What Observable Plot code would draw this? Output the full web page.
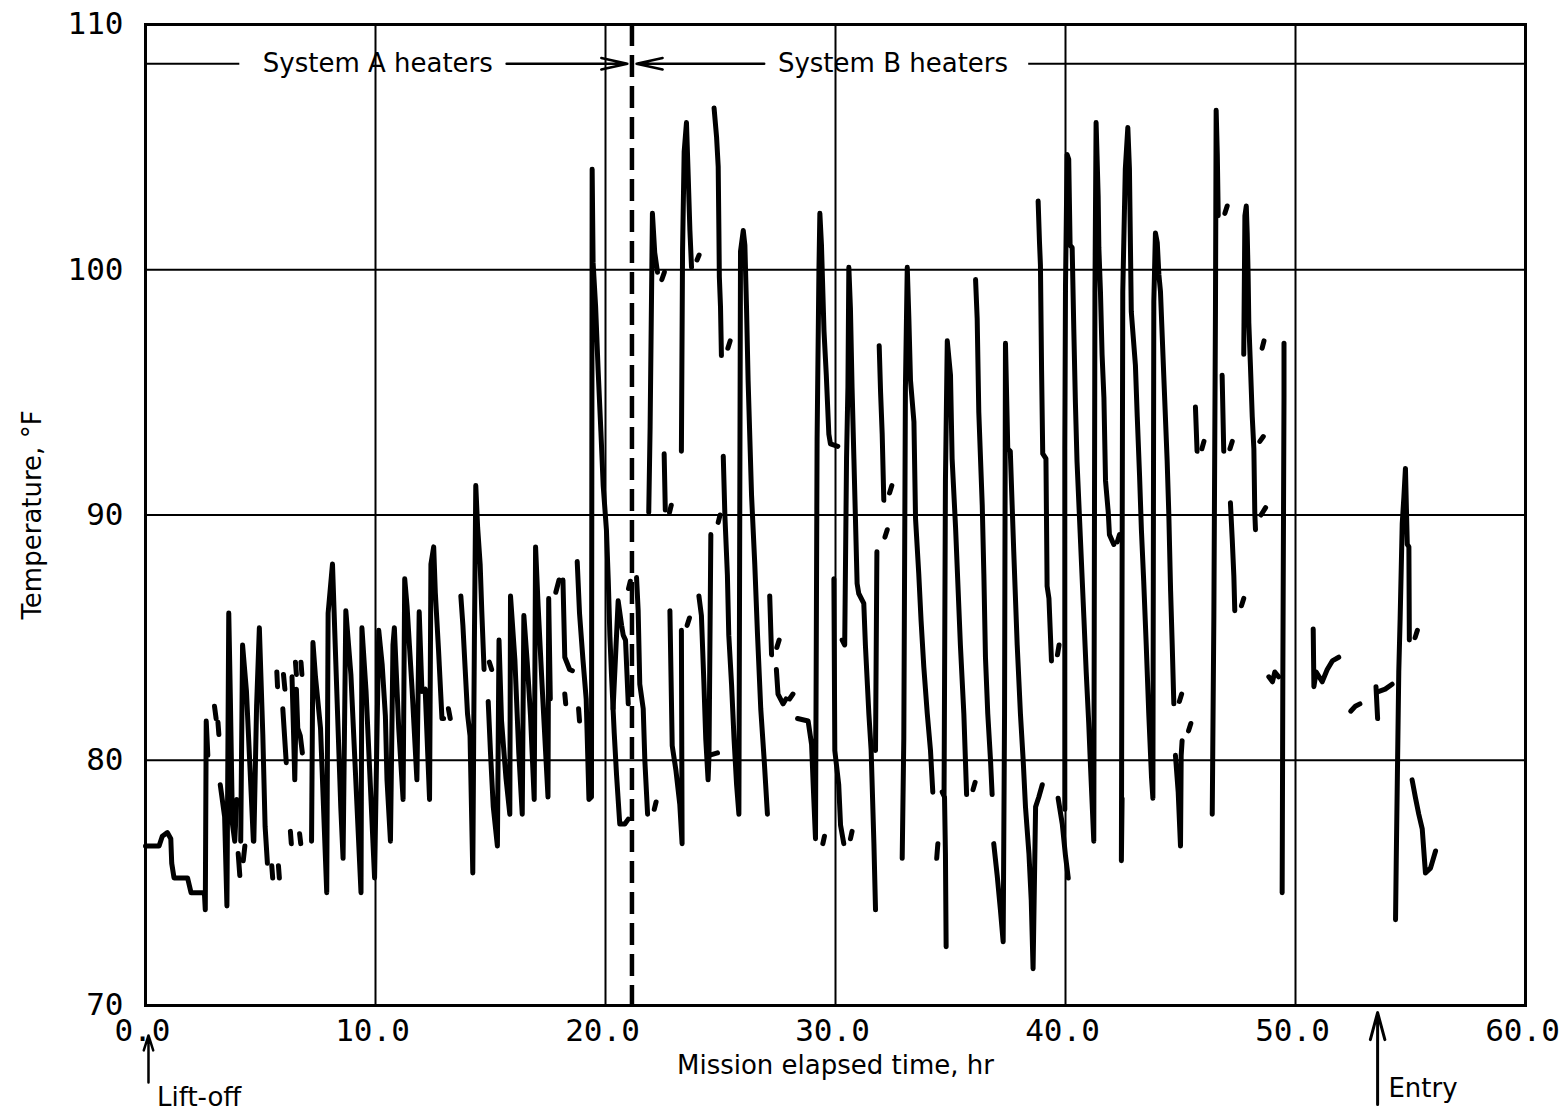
<!DOCTYPE html>
<html>
<head>
<meta charset="utf-8">
<script src="https://cdn.jsdelivr.net/npm/d3@7"></script>
<script src="https://cdn.jsdelivr.net/npm/@observablehq/plot@0.6"></script>
<style>
  html, body { margin: 0; padding: 0; background: #fff; }
  #chart svg { display: block; }
</style>
</head>
<body>
<div id="chart"></div>
<script>
// Tick values
const xTicks = [0, 10, 20, 30, 40, 50, 60];
const yTicks = [70, 80, 90, 100, 110];
const xGrid = [10, 20, 30, 40, 50];
const yGrid = [80, 90, 100];

// Heater switch-over time (hr)
const switchHour = [21.15];

// Trace readings [mission elapsed time hr, temperature °F]; null = break in record
const traceSystemA = [
  [0,76.5],[0.59,76.5],[0.73,76.9],[0.95,77.05],[1.1,76.8],[1.14,75.8],[1.24,75.2],[1.83,75.2],[1.98,74.6],[2.56,74.6],[2.6,73.9],[2.64,81.6],[2.71,80.2],null,
  [3.0,82.2],[3.07,81.7],null,
  [3.15,81.55],[3.19,81.05],null,
  [3.25,79.0],[3.44,77.7],[3.54,74.06],[3.62,86.0],[3.69,82.5],[3.78,77.4],[3.88,76.7],[3.97,78.4],null,
  [4.03,76.2],[4.1,75.3],null,
  [4.25,75.9],[4.32,76.5],null,
  [4.14,76.7],[4.22,84.7],[4.39,82.8],[4.69,76.7],[4.71,76.7],[4.83,82.2],[4.95,85.4],[5.1,81.05],[5.2,77.3],[5.3,75.8],null,
  [5.49,75.7],[5.53,75.2],null,
  [5.78,75.7],[5.82,75.2],null,
  [5.71,83.6],[5.74,83.0],null,
  [6.0,83.5],[6.06,82.9],null,
  [6.52,84.0],[6.56,83.5],null,
  [6.76,84.0],[6.8,83.5],null,
  [5.97,82.1],[6.12,79.9],null,
  [6.37,83.4],[6.44,81.0],[6.49,79.2],[6.56,82.9],[6.62,81.3],[6.73,81.0],[6.82,80.3],null,
  [6.3,77.1],[6.34,76.6],null,
  [6.7,77.0],[6.75,76.6],null,
  [7.22,76.7],[7.28,84.8],[7.39,83.4],[7.61,81.3],[7.88,74.6],[7.94,86.0],[8.13,88.0],[8.27,84.1],[8.49,78.1],[8.59,76.0],[8.71,86.1],[8.93,83.5],[9.37,74.6],[9.41,85.4],[9.59,82.8],[9.96,75.2],[10.14,85.3],[10.29,83.9],[10.43,81.8],[10.5,79.2],[10.65,76.7],[10.76,84.7],[10.82,85.4],[11.01,81.3],[11.2,78.4],[11.27,87.4],[11.37,86.3],[11.59,82.9],[11.8,79.2],[11.9,86.05],[12.02,82.8],[12.16,82.9],[12.35,78.4],[12.41,88.0],[12.53,88.7],[12.6,86.85],[12.74,84.5],[12.89,81.7],[12.96,81.7],null,
  [13.17,82.1],[13.25,81.7],null,
  [13.71,86.7],[13.8,85.5],[13.9,83.7],[14.0,81.9],[14.11,81.0],[14.23,75.4],[14.27,81.0],[14.3,84.9],[14.36,91.2],[14.44,89.5],[14.55,88.0],[14.62,86.1],[14.72,83.7],null,
  [14.95,84.0],[15.05,83.7],null,
  [14.9,82.4],[15.0,80.3],[15.12,78.1],[15.3,76.5],[15.37,84.9],[15.48,81.6],[15.67,79.3],[15.84,77.8],[15.87,86.7],[16.06,84.1],[16.23,80.3],[16.38,77.8],[16.45,85.9],[16.6,83.95],[16.74,81.8],[16.9,78.4],[16.96,88.7],[17.07,86.3],[17.24,83.1],[17.5,78.5],[17.53,86.6],[17.6,82.5],null,
  [17.84,86.85],[17.98,87.35],null,
  [18.15,87.35],[18.23,84.2],[18.44,83.7],[18.56,83.65],null,
  [18.23,82.7],[18.27,82.3],null,
  [18.83,82.1],[18.87,81.6],null,
  [18.77,88.1],[18.87,86.0],[19.02,84.1],[19.16,82.5],[19.28,78.4],[19.39,78.5],[19.42,104.1],[19.46,100.3],[19.57,98.5],[19.68,95.9],[19.8,93.4],[19.9,91.2],[20.04,89.4],[20.12,87.35],[20.19,85.1],[20.26,83.5],[20.38,81.1],[20.48,79.4],[20.62,77.4],[20.84,77.4],[20.99,77.6],null,
  [20.33,82.1],[20.55,86.5],[20.7,85.5],[20.77,85.1],[20.87,84.9],[20.99,82.3],null,
  [21.0,87.0],[21.08,87.3]
];

const traceSystemB = [
  [21.35,87.45],[21.42,86.1],[21.49,83.1],[21.64,82.1],[21.71,80.0],[21.83,77.8],null,
  [22.12,78.0],[22.2,78.3],null,
  [21.88,90.1],[21.94,93.6],[22.04,102.3],[22.14,100.7],[22.26,99.9],null,
  [22.45,99.6],[22.56,99.9],null,
  [22.55,92.5],[22.6,90.2],null,
  [22.78,90.1],[22.86,90.4],null,
  [22.8,86.1],[22.9,80.6],[23.06,79.6],[23.23,78.2],[23.33,76.6],[23.3,85.3],null,
  [23.55,85.5],[23.65,85.8],null,
  [23.3,92.6],[23.35,100.75],[23.42,104.8],[23.52,106.0],[23.59,104.0],[23.67,101.6],[23.74,100.1],null,
  [23.98,100.4],[24.07,100.6],null,
  [24.06,86.7],[24.17,85.9],[24.28,83.1],[24.36,80.85],[24.46,79.2],[24.5,80.2],[24.58,89.2],null,
  [24.5,80.2],[24.87,80.3],null,
  [24.9,89.7],[24.98,90.0],null,
  [24.72,106.6],[24.83,105.4],[24.9,104.2],[24.93,101.6],[24.95,99.7],[25.0,98.5],[25.04,96.5],null,
  [25.32,96.8],[25.42,97.1],null,
  [25.12,92.4],[25.19,90.0],[25.3,87.55],[25.36,85.1],[25.48,83.1],[25.59,80.85],[25.7,79.0],[25.8,77.8],[25.87,100.75],[25.99,101.6],[26.06,101.0],[26.13,98.5],[26.2,95.5],[26.35,90.8],[26.49,88.0],[26.61,85.1],[26.75,82.1],[26.9,80.0],[27.04,77.8],null,
  [27.14,86.7],[27.22,84.3],null,
  [27.45,84.6],[27.55,84.9],null,
  [27.43,83.7],[27.5,82.7],[27.72,82.3],[27.85,82.5],null,
  [28.0,82.5],[28.15,82.7],null,
  [28.35,81.7],[28.81,81.6],[28.96,80.65],[29.03,79.0],[29.13,76.8],[29.2,93.1],[29.28,100.0],[29.32,102.3],[29.39,101.0],[29.5,97.5],[29.6,95.7],[29.71,93.3],[29.78,92.9],[30.1,92.8],null,
  [29.45,76.6],[29.52,76.9],null,
  [29.93,87.4],[29.97,80.4],[30.14,79.0],[30.22,77.35],[30.36,76.6],null,
  [30.65,76.8],[30.72,77.1],null,
  [30.29,84.9],[30.4,84.7],[30.48,92.3],[30.54,95.2],[30.58,100.1],[30.65,98.4],[30.72,95.2],[30.8,92.3],[30.94,87.2],[31.01,86.8],[31.23,86.4],[31.3,84.7],[31.45,81.9],[31.55,80.4],[31.67,76.6],[31.74,73.9],null,
  [31.74,80.4],[31.8,88.5],null,
  [32.15,89.1],[32.25,89.4],null,
  [31.9,96.9],[31.96,95.0],[32.03,93.3],[32.1,90.6],null,
  [32.35,90.9],[32.45,91.2],null,
  [32.9,76.0],[32.97,80.9],[33.04,95.2],[33.12,100.1],[33.19,98.0],[33.26,95.5],[33.41,93.8],[33.48,89.85],[33.62,87.6],[33.72,85.7],[33.84,83.8],[33.99,81.9],[34.13,80.4],[34.23,78.7],null,
  [34.4,76.0],[34.45,76.6],null,
  [34.64,78.7],[34.74,78.5],[34.78,76.2],[34.81,72.4],null,
  [34.72,78.6],[34.78,91.4],[34.86,97.1],[35.0,95.7],[35.07,92.3],[35.22,89.5],[35.43,84.7],[35.58,81.9],[35.7,78.6],null,
  [35.98,78.8],[36.07,79.1],null,
  [36.09,99.6],[36.16,98.0],[36.23,94.2],[36.38,90.4],[36.45,87.6],[36.52,84.2],[36.62,81.9],[36.74,80.0],[36.81,78.6],null,
  [36.88,76.6],[37.03,75.3],[37.17,73.9],[37.29,72.6],[37.35,81.9],[37.39,97.0],[37.49,92.7],[37.6,92.6],[37.68,90.4],[37.75,88.5],[37.9,84.7],[38.04,81.9],[38.16,80.0],[38.26,78.1],[38.41,76.2],[38.51,74.3],[38.59,71.5],[38.7,78.1],[38.84,78.5],[38.99,79.0],null,
  [38.81,102.8],[38.87,101.1],[38.91,100.2],[38.96,95.9],[39.01,92.5],[39.15,92.3],[39.2,87.1],[39.28,86.6],[39.39,84.05],null,
  [39.65,84.3],[39.72,84.7],null,
  [39.68,78.45],[39.86,77.4],[40.0,76.1],[40.12,75.2],null,
  [39.97,78.0],[39.97,92.7],[40.0,99.35],[40.07,104.7],[40.14,104.5],[40.2,101.0],[40.29,100.9],[40.36,97.6],[40.43,94.6],[40.5,92.2],[40.65,89.0],[40.8,85.8],[40.9,83.6],[41.01,81.5],[41.09,79.7],[41.16,78.2],[41.23,76.7],[41.28,99.1],[41.33,106.0],[41.42,103.0],[41.45,100.9],[41.52,99.1],[41.59,96.55],[41.67,94.8],[41.74,91.4],[41.86,90.1],[41.91,89.2],[42.1,88.8],null,
  [42.25,88.9],[42.35,89.2],null,
  [42.46,78.45],[42.43,75.9],[42.49,99.1],[42.6,104.1],[42.71,105.8],[42.78,104.1],[42.86,98.3],[43.04,96.1],[43.12,94.0],[43.22,91.6],[43.3,89.4],[43.4,87.3],[43.51,84.7],[43.62,81.9],[43.74,79.3],[43.8,78.45],[43.84,98.7],[43.91,101.5],[43.99,101.1],[44.06,99.8],[44.13,99.1],[44.28,95.5],[44.42,92.2],[44.49,90.1],[44.57,86.9],[44.64,84.7],[44.71,82.3],null,
  [44.95,82.4],[45.05,82.7],null,
  [44.78,80.2],[44.9,78.7],[45.0,76.5],[45.03,80.2],[45.07,80.8],null,
  [45.35,81.2],[45.45,81.5],null,
  [45.65,94.4],[45.72,92.6],null,
  [45.93,92.7],[46.02,93.0],null,
  [46.38,77.8],[46.45,85.8],[46.52,98.3],[46.55,106.5],[46.6,104.7],[46.64,102.2],null,
  [46.93,102.3],[47.03,102.6],null,
  [46.81,95.7],[46.88,92.6],null,
  [47.15,92.7],[47.25,93.0],null,
  [47.17,90.5],[47.25,89.0],[47.32,87.5],[47.36,86.1],null,
  [47.65,86.3],[47.75,86.6],null,
  [47.75,96.55],[47.8,102.2],[47.86,102.6],[47.9,101.5],[47.94,99.8],[47.97,97.85],[48.04,96.1],[48.12,94.0],[48.19,92.7],[48.23,90.1],[48.26,89.4],null,
  [48.55,96.8],[48.63,97.1],null,
  [48.45,93.0],[48.6,93.2],null,
  [48.5,90.0],[48.7,90.3],null,
  [48.84,83.4],[49.0,83.2],[49.1,83.6],[49.27,83.4],null,
  [49.42,74.6],[49.45,83.6],[49.5,94.8],[49.5,97.0],null,
  [50.77,85.35],[50.8,83.0],[50.9,83.6],[51.16,83.2],[51.38,83.7],[51.6,84.05],[51.88,84.2],null,
  [52.4,82.0],[52.6,82.2],[52.8,82.3],null,
  [53.5,83.0],[53.57,81.7],null,
  [53.6,82.8],[53.9,82.9],[54.2,83.1],null,
  [54.35,73.5],[54.38,75.9],[54.49,83.6],[54.55,85.8],[54.64,89.65],[54.71,90.7],[54.78,91.9],[54.86,88.8],[54.93,88.7],[54.95,84.9],null,
  [55.2,85.0],[55.3,85.3],null,
  [55.07,79.2],[55.22,78.45],[55.36,77.8],[55.51,77.2],[55.58,76.3],[55.65,75.4],[55.87,75.6],[56.09,76.3]
];

function toRows(trace, tag) {
  const rows = [];
  let seg = 0;
  for (const p of trace) {
    if (p === null) { seg++; continue; }
    rows.push({ t: p[0], v: p[1], seg: tag + seg });
  }
  return rows;
}
const rows = toRows(traceSystemA, "A").concat(toRows(traceSystemB, "B"));

const sansFont = "'DejaVu Sans', sans-serif";
const tickFont = "'DejaVu Sans Mono', monospace";
const annY = 108.4;

const chart = Plot.plot({
  width: 1559,
  height: 1113,
  marginLeft: 145,
  marginRight: 34,
  marginTop: 24,
  marginBottom: 108,
  style: { background: "white", color: "black", fontFamily: sansFont },
  x: { domain: [0, 60] },
  y: { domain: [70, 110] },
  marks: [
    Plot.ruleX(xGrid, { stroke: "black", strokeWidth: 2 }),
    Plot.ruleY(yGrid, { stroke: "black", strokeWidth: 2 }),
    Plot.ruleX(switchHour, { stroke: "black", strokeWidth: 4.5, strokeDasharray: "22,9" }),
    Plot.line(rows, { x: "t", y: "v", z: "seg", stroke: "black", strokeWidth: 5, strokeLinecap: "round", strokeLinejoin: "round" }),
    Plot.frame({ stroke: "black", strokeWidth: 3 }),
    // heater annotations
    Plot.ruleY([annY], { x1: 0, x2: 4.1, stroke: "black", strokeWidth: 2 }),
    Plot.arrow([0], { x1: 15.7, x2: 20.95, y1: annY, y2: annY, stroke: "black", strokeWidth: 2.5, headLength: 16, headAngle: 25 }),
    Plot.arrow([0], { x1: 26.9, x2: 21.35, y1: annY, y2: annY, stroke: "black", strokeWidth: 2.5, headLength: 16, headAngle: 25 }),
    Plot.ruleY([annY], { x1: 38.4, x2: 60, stroke: "black", strokeWidth: 2 }),
    Plot.text(["System A heaters"], { x: 10.1, y: annY, fontSize: 26, fontFamily: sansFont }),
    Plot.text(["System B heaters"], { x: 32.5, y: annY, fontSize: 26, fontFamily: sansFont }),
    // axes
    Plot.axisX(xTicks, { tickSize: 0, tickPadding: 13, dx: -3, tickFormat: d => d.toFixed(1), fontSize: 31, fontFamily: tickFont, label: null }),
    Plot.axisY(yTicks, { tickSize: 0, tickPadding: 22, tickFormat: d => String(d), fontSize: 31, fontFamily: tickFont, label: null }),
    Plot.text(["Mission elapsed time, hr"], { frameAnchor: "bottom", dy: 60, lineAnchor: "middle", fontSize: 26, fontFamily: sansFont }),
    Plot.text(["Temperature, °F"], { frameAnchor: "left", dx: -113, rotate: -90, textAnchor: "middle", fontSize: 26, fontFamily: sansFont }),
    // event markers below the axis
    Plot.arrow([0], { x1: 0.13, x2: 0.13, y1: 66.86, y2: 68.78, stroke: "black", strokeWidth: 2.5, headLength: 12, headAngle: 35 }),
    Plot.text(["Lift-off"], { x: 0.5, y: 66.25, textAnchor: "start", fontSize: 26, fontFamily: sansFont }),
    Plot.arrow([0], { x1: 53.57, x2: 53.57, y1: 65.96, y2: 69.71, stroke: "black", strokeWidth: 3, headLength: 14, headAngle: 30 }),
    Plot.text(["Entry"], { x: 54.04, y: 66.6, textAnchor: "start", fontSize: 26, fontFamily: sansFont })
  ]
});

document.getElementById("chart").appendChild(chart);
</script>
</body>
</html>
